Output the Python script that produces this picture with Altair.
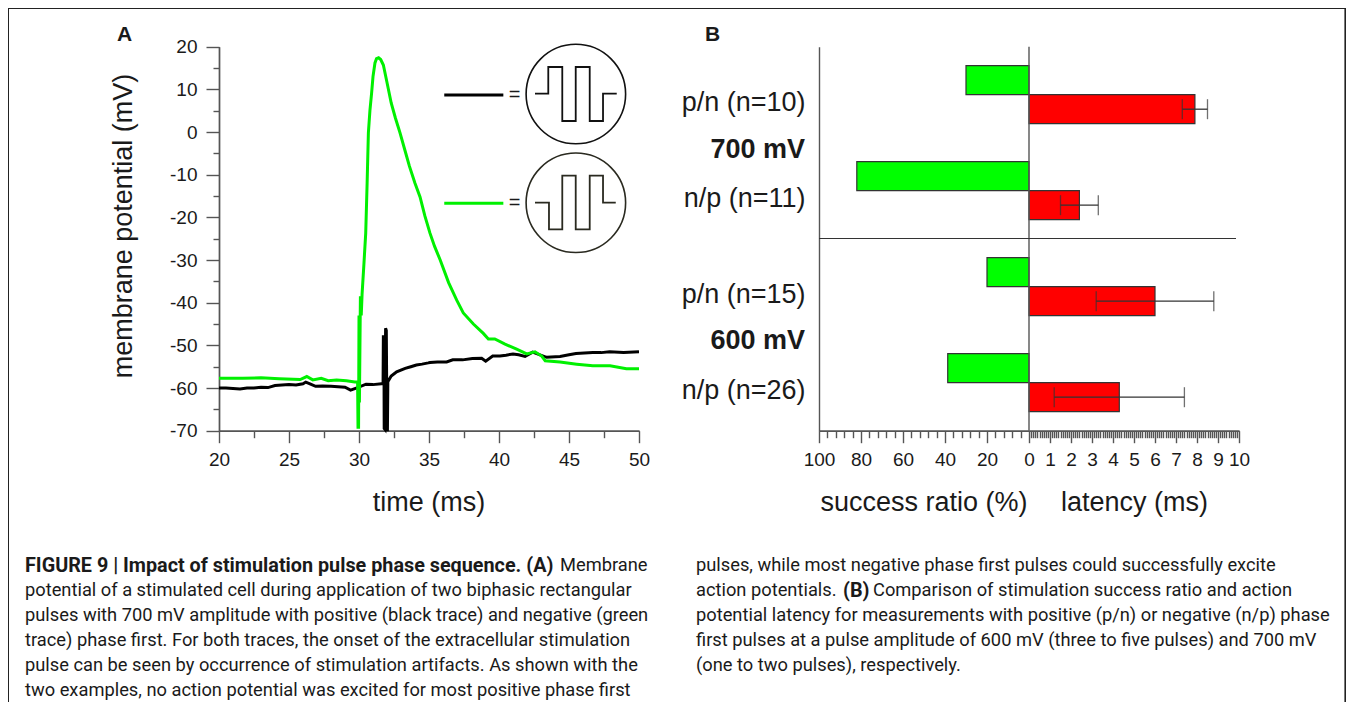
import altair as alt
import pandas as pd

# ---- data ----
black_t = [20,20.5,21,21.5,22,22.5,23,23.5,24,24.5,25,25.5,26,26.2,26.5,26.9,27.4,28,28.5,29,29.4,29.9,30.5,31,31.6,31.72,31.74,31.78,31.8,31.85,31.9,31.95,32.0,32.03,32.06,32.3,32.69,33.3,33.7,34.1,34.5,34.95,35.07,35.6,36.26,36.7,37.4,38.1,38.76,39.05,39.55,40.07,40.5,41,41.4,41.86,42.4,43.4,44.36,45,45.5,46.7,47.3,47.9,48.9,50]
black_v = [-60,-60,-60.1,-60.2,-60,-60,-59.8,-59.9,-59.4,-59.3,-59.2,-59.3,-59,-58.6,-59,-59.6,-59.5,-59.6,-59.7,-59.8,-60.5,-59.9,-59.1,-59.2,-59,-59,-48,-48,-69.5,-69.7,-46,-46.5,-69.8,-69.8,-58.5,-57.2,-56.2,-55.4,-55,-54.6,-54.4,-54.1,-54,-53.9,-53.9,-53.4,-53.4,-53.1,-53,-53.7,-52.5,-52.5,-52.3,-52,-52.2,-52.6,-51.6,-52.8,-52.6,-52.2,-51.9,-51.7,-51.7,-51.5,-51.7,-51.5]
green_t = [20,21.7,23,24.3,25.8,26.27,26.7,27.3,27.8,28.4,29.1,29.7,29.9,29.93,29.97,30.0,30.03,30.1,30.16,30.22,30.35,30.48,30.58,30.67,30.78,30.9,31.0,31.14,31.25,31.4,31.55,31.74,32.0,32.3,32.6,32.93,33.3,33.6,34.0,34.36,34.7,35.07,35.4,35.8,36.4,36.98,37.45,38.17,38.88,39.24,39.7,40.43,41.26,41.98,42.57,43.05,43.3,44.36,45.55,46.7,47.93,49.1,50]
green_v = [-57.7,-57.7,-57.6,-57.8,-58,-57.3,-58.1,-57.7,-58.3,-58.1,-58.3,-58.6,-58.6,-69.2,-69.2,-43,-63.4,-38.5,-43,-38,-31,-23.7,-12,-0.2,5,9.1,13,16.2,17.2,17.4,17,15.7,11.6,6.8,3.3,-0.2,-4.5,-8,-12,-15.2,-19.6,-23.7,-26.8,-30,-35.3,-39.4,-42.4,-45,-47.2,-48.5,-48.5,-49.7,-50.9,-52,-51.5,-52.5,-53.6,-53.9,-54.4,-54.8,-54.8,-55.5,-55.5]

pulse1_t = [42.57,43.52,43.52,44.52,44.52,45.48,45.48,46.48,46.48,47.43,47.43,48.41]
pulse1_v = [8.99,8.99,15.24,15.24,2.59,2.59,15.24,15.24,2.59,2.59,8.99,8.99]
pulse2_t = [42.57,43.57,43.57,44.52,44.52,45.48,45.48,46.48,46.48,47.43,47.43,48.34]
pulse2_v = [-16.55,-16.55,-22.8,-22.8,-10.23,-10.23,-22.8,-22.8,-10.23,-10.23,-16.55,-16.55]
key_t = [36.09,40.31]
key_black_v = [8.68,8.68]
key_green_v = [-16.7,-16.7]
circle_t = [45.49]
circle1_v = [8.91]
circle2_v = [-16.58]

rows = ["p/n (n=10)", "n/p (n=11)", "p/n (n=15)", "n/p (n=26)"]
success = [30, 82, 20, 38.7]
latency = [7.9, 2.4, 6.0, 4.3]
err_lo = [7.3, 1.5, 3.2, 1.2]
err_hi = [8.5, 3.3, 8.8, 7.4]

caption = [
    (25, 566, True, "FIGURE 9 | Impact of stimulation pulse phase sequence. (A)"),
    (560, 566, False, "Membrane"),
    (25, 591, False, "potential of a stimulated cell during application of two biphasic rectangular"),
    (25, 616, False, "pulses with 700 mV amplitude with positive (black trace) and negative (green"),
    (25, 641, False, "trace) phase first. For both traces, the onset of the extracellular stimulation"),
    (25, 666, False, "pulse can be seen by occurrence of stimulation artifacts. As shown with the"),
    (25, 691, False, "two examples, no action potential was excited for most positive phase first"),
    (696, 566, False, "pulses, while most negative phase first pulses could successfully excite"),
    (696, 591, False, "action potentials."),
    (843, 591, True, "(B)"),
    (873, 591, False, "Comparison of stimulation success ratio and action"),
    (696, 616, False, "potential latency for measurements with positive (p/n) or negative (n/p) phase"),
    (696, 641, False, "first pulses at a pulse amplitude of 600 mV (three to five pulses) and 700 mV"),
    (696, 666, False, "(one to two pulses), respectively."),
]

W, H = 1338, 694
M = 8
AXC = "#555555"
TXT = "#1a1a1a"
FONT = "Liberation Sans"
GREEN_TRACE = "#00f000"

xA = alt.Scale(domain=[20, 50], range=[219 - M, 639 - M], nice=False, zero=False)
yA = alt.Scale(domain=[-70, 20], range=[430.7 - M, 46.7 - M], nice=False, zero=False)
xL = alt.Scale(domain=[100, 0], range=[819 - M, 1029 - M], nice=False, zero=False)
xR = alt.Scale(domain=[0, 10], range=[1029 - M, 1239 - M], nice=False, zero=False)


def band(shift, bar=None):
    top = 46.7 - M + shift
    if bar:
        pad = 1 - bar / 96
        return alt.Scale(domain=rows, range=[top, top + 384], paddingInner=pad, paddingOuter=pad / 2, round=False)
    return alt.Scale(domain=rows, range=[top, top + 384], paddingInner=0, paddingOuter=0, round=False)


def label(text, x, y, size, weight="normal", align="left", angle=0, font=FONT, color=TXT):
    return alt.Chart(pd.DataFrame({"s": [text]})).mark_text(
        font=font, fontSize=size, fontWeight=weight, align=align, baseline="middle", angle=angle, color=color
    ).encode(text="s:N", x=alt.value(x - M), y=alt.value(y - M))


def x_axis(vals, scale, size, labels):
    ax = alt.Axis(values=vals, title=None, orient="bottom", offset=430.7 - M - H, tickSize=size, tickColor=AXC,
                  tickWidth=1.4, domainColor=AXC, domainWidth=1.4, labels=labels, labelFontSize=19, labelFont=FONT,
                  labelColor=TXT, labelPadding=8, grid=False, labelOverlap=False, labelFlush=False)
    return alt.Chart(pd.DataFrame({"v": vals})).mark_point(opacity=0).encode(x=alt.X("v:Q", scale=scale, axis=ax))


def y_axis(vals, size, labels):
    ax = alt.Axis(values=vals, title=None, orient="left", offset=-(219 - M), tickSize=size, tickColor=AXC,
                  tickWidth=1.4, domainColor=AXC, domainWidth=1.4, labels=labels, labelFontSize=19, labelFont=FONT,
                  labelColor=TXT, labelPadding=9, grid=False, labelOverlap=False, labelFlush=False,
                  labelExpr="toString(datum.value)")
    return alt.Chart(pd.DataFrame({"v": vals})).mark_point(opacity=0).encode(y=alt.Y("v:Q", scale=yA, axis=ax))


def line(ts, vs, color, width):
    df = pd.DataFrame({"t": ts, "v": vs, "i": range(len(ts))})
    return alt.Chart(df).mark_line(color=color, strokeWidth=width, strokeJoin="miter", clip=False).encode(
        x=alt.X("t:Q", scale=xA, axis=None), y=alt.Y("v:Q", scale=yA, axis=None), order="i:Q")


def circle(vs, color):
    df = pd.DataFrame({"t": circle_t, "v": vs})
    return alt.Chart(df).mark_point(shape="circle", filled=False, size=9900, color=color, strokeWidth=1.6, opacity=1).encode(
        x=alt.X("t:Q", scale=xA, axis=None), y=alt.Y("v:Q", scale=yA, axis=None))


# frame
frame = pd.DataFrame({"a": [0], "b": [1]})
frame_top = alt.Chart(frame).mark_rule(color="#222222", strokeWidth=1.6).encode(x=alt.value(0), x2=alt.value(W), y=alt.value(0.2))
frame_left = alt.Chart(frame).mark_rule(color="#222222", strokeWidth=1.6).encode(x=alt.value(0.2), y=alt.value(0), y2=alt.value(H))
frame_right = alt.Chart(frame).mark_rule(color="#222222", strokeWidth=1.6).encode(x=alt.value(W - 0.8), y=alt.value(0), y2=alt.value(H))

layers = [frame_top, frame_left, frame_right]

# panel A axes
layers += [
    x_axis(list(range(20, 51, 5)), xA, 12, True),
    x_axis([22.5, 27.5, 32.5, 37.5, 42.5, 47.5], xA, 7, False),
    y_axis(list(range(-70, 21, 10)), 13, True),
    y_axis(list(range(-65, 16, 10)), 6, False),
]
# panel A traces and key
layers += [
    line(black_t, black_v, "#000000", 3),
    line(green_t, green_v, GREEN_TRACE, 3),
    line(key_t, key_black_v, "#000000", 3),
    line(key_t, key_green_v, GREEN_TRACE, 3),
    circle(circle1_v, "#111111"),
    circle(circle2_v, "#2a2a20"),
    line(pulse1_t, pulse1_v, "#111111", 1.8),
    line(pulse2_t, pulse2_v, "#2a2a20", 1.8),
    label("=", 514.5, 94.5, 20, align="center"),
    label("=", 514.5, 203, 20, align="center"),
]

# panel B
df = pd.DataFrame({"row": rows, "success": success, "latency": latency, "lo": err_lo, "hi": err_hi,
                   "base": [0] * len(rows)})
left_row_axis = alt.Axis(title=None, orient="left", offset=-(819 - M), ticks=False, domainColor=AXC, domainWidth=1.4,
                         labelFontSize=27, labelFont=FONT, labelColor=TXT, labelPadding=14, labelOffset=8, labelLimit=0, grid=False)
layers += [
    alt.Chart(df).mark_bar(color="#00ff00", stroke="#333333", strokeWidth=1.2).encode(
        y=alt.Y("row:N", scale=band(-14.5, 29), sort=None, axis=None),
        x=alt.X("success:Q", scale=xL, axis=None, stack=None), x2="base:Q"),
    alt.Chart(df).mark_bar(color="#ff0000", stroke="#333333", strokeWidth=1.2).encode(
        y=alt.Y("row:N", scale=band(14.5, 29), sort=None, axis=None),
        x=alt.X("latency:Q", scale=xR, axis=None, stack=None), x2="base:Q"),
    alt.Chart(df).mark_rule(color="#333333", strokeWidth=1.3).encode(
        y=alt.Y("row:N", scale=band(14.5, 29), sort=None, axis=None),
        x=alt.X("lo:Q", scale=xR, axis=None), x2="hi:Q"),
    alt.Chart(df).mark_tick(color="#333333", thickness=1.3, size=20, orient="vertical").encode(
        y=alt.Y("row:N", scale=band(14.5, 29), sort=None, axis=None),
        x=alt.X("lo:Q", scale=xR, axis=None)),
    alt.Chart(df).mark_tick(color="#333333", thickness=1.3, size=20, orient="vertical").encode(
        y=alt.Y("row:N", scale=band(14.5, 29), sort=None, axis=None),
        x=alt.X("hi:Q", scale=xR, axis=None)),
    alt.Chart(df).mark_point(opacity=0).encode(y=alt.Y("row:N", scale=band(0), sort=None, axis=left_row_axis)),
    alt.Chart(pd.DataFrame({"v": [0]})).mark_rule(color=AXC, strokeWidth=1.4).encode(
        x=alt.X("v:Q", scale=xR, axis=None), y=alt.value(46.7 - M), y2=alt.value(430.7 - M)),
    alt.Chart(pd.DataFrame({"a": [0]})).mark_rule(color="#333333", strokeWidth=1.2).encode(
        x=alt.value(819 - M), x2=alt.value(1236 - M), y=alt.value(238.5 - M)),
    x_axis(list(range(100, -1, -20)), xL, 12, True),
    x_axis([v for v in range(96, 0, -4) if v % 20], xL, 7, False),
    x_axis(list(range(1, 11)), xR, 12, True),
    x_axis([round(v * 0.1, 1) for v in range(1, 100) if v % 10], xR, 7, False),
]

# text
layers += [
    label("A", 124.5, 35, 21, "bold", "center"),
    label("B", 712.5, 35, 21, "bold", "center"),
    label("membrane potential (mV)", 124, 226, 27, align="center", angle=270),
    label("time (ms)", 429, 503, 27, align="center"),
    label("success ratio (%)", 924, 503, 27, align="center"),
    label("latency (ms)", 1134.5, 503, 27, align="center"),
    label("700 mV", 805, 150, 27, "bold", "right"),
    label("600 mV", 805, 341, 27, "bold", "right"),
]
for x, y, bold, s in caption:
    layers.append(label(s, x, y, 19.8 if bold else 18.3, "bold" if bold else "normal", font="Roboto"))

chart = alt.layer(*layers).resolve_scale(x="independent", y="independent").properties(
    width=W, height=H, padding=0, autosize=alt.AutoSizeParams(type="none"), background="white"
).configure_view(stroke=None)

chart.save("out.html", embed_options={"renderer": "svg", "actions": False})
